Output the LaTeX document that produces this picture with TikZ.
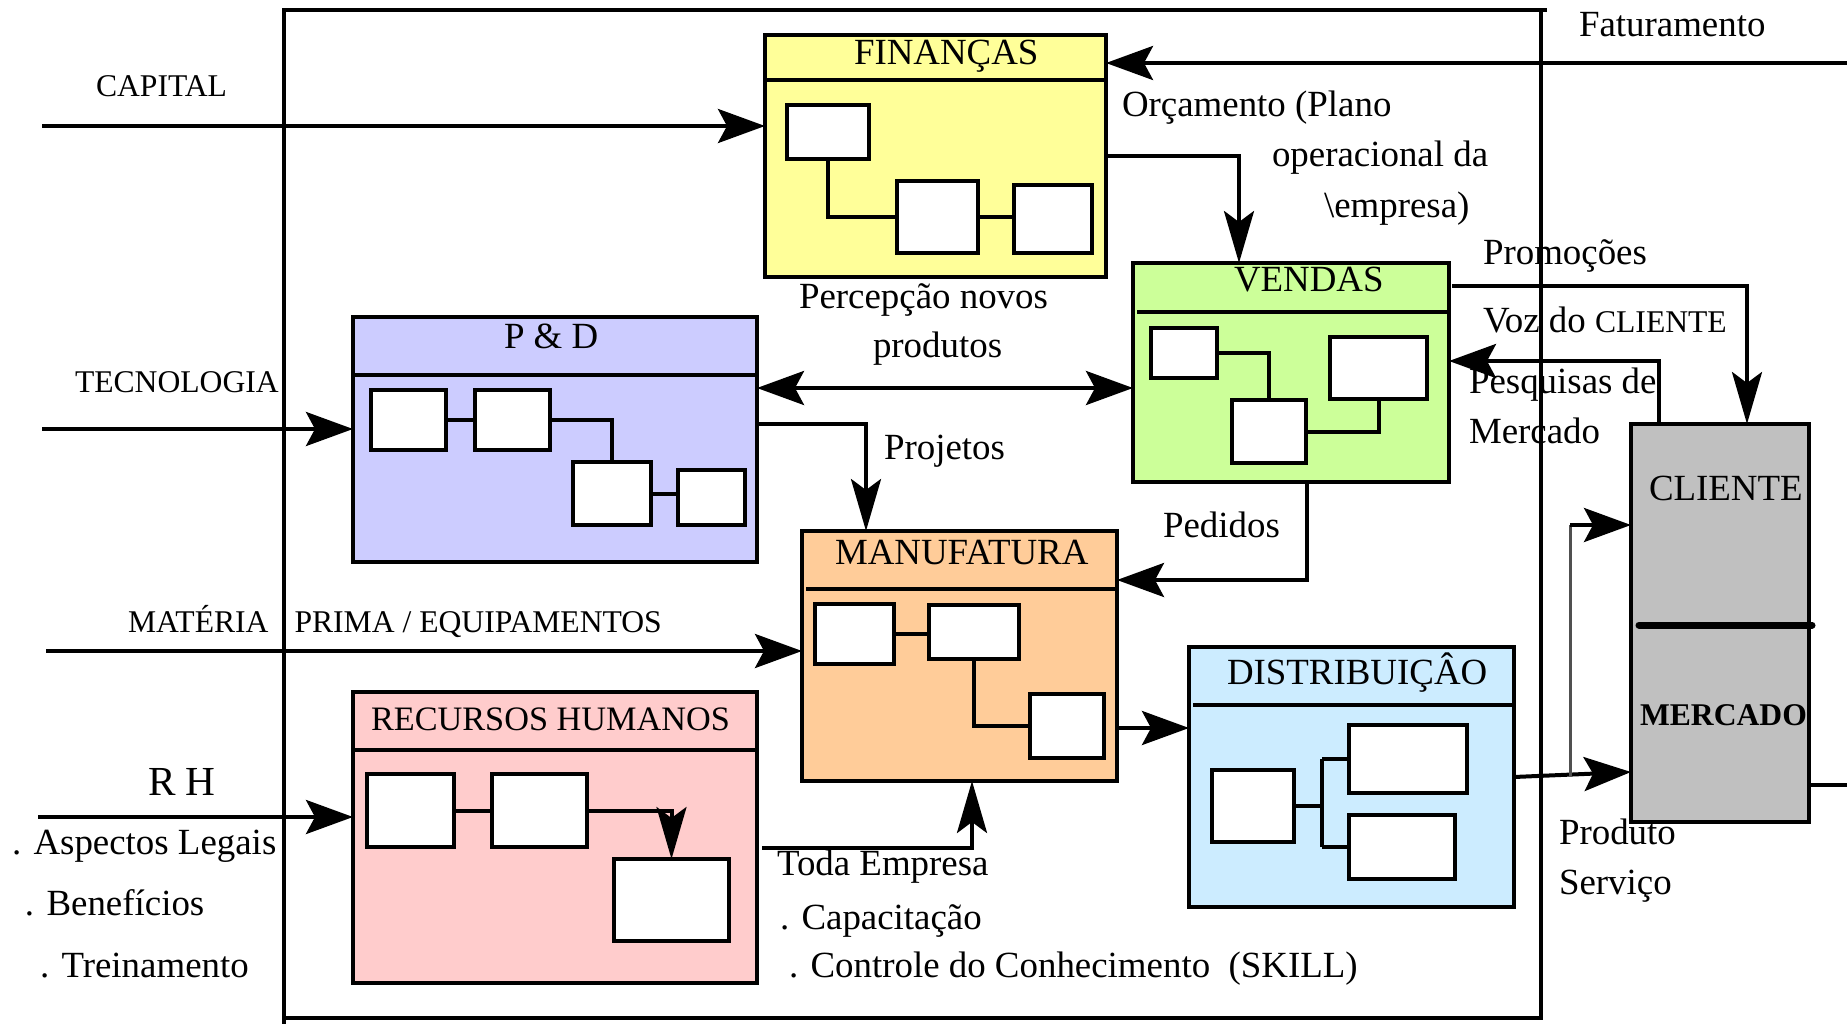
\documentclass[tikz,border=0pt]{standalone}
\usepackage{fontspec}
\setmainfont{Liberation Serif}
\usetikzlibrary{arrows.meta,calc}
\definecolor{finc}{HTML}{FFFF99}
\definecolor{pdc}{HTML}{CCCCFF}
\definecolor{venc}{HTML}{CCFF99}
\definecolor{manc}{HTML}{FFCC99}
\definecolor{rhc}{HTML}{FFCCCC}
\definecolor{distc}{HTML}{CCECFF}
\definecolor{clic}{HTML}{C0C0C0}
\definecolor{splitgray}{HTML}{505050}

\begin{document}
\begin{tikzpicture}[x=0.02cm,y=-0.02cm,line width=0.08cm,
  panel/.style={draw,inner sep=0pt,outer sep=0pt,anchor=north west},
  cell/.style={panel,fill=white},
  sz/.style 2 args={minimum width=#1*0.02cm,minimum height=#2*0.02cm},
  txt/.style={anchor=base west,inner sep=0pt,outer sep=0pt,font=\fontsize{21}{25}\selectfont},
  txts/.style={txt,font=\fontsize{18}{22}\selectfont},
  harr/.style={-{Stealth[length=0.94cm,width=0.68cm,inset=0.18cm]}},
  varr/.style={-{Stealth[length=1.04cm,width=0.6cm,inset=0.22cm]}},
  dharr/.style={{Stealth[length=0.94cm,width=0.68cm,inset=0.18cm]}-{Stealth[length=0.94cm,width=0.68cm,inset=0.18cm]}},
  splitline/.style={draw=splitgray,line width=0.06cm}]

\fill[white] (0,0) rectangle (1847,1024);
\useasboundingbox (0,0) rectangle (1847,1024);

% departments
\node[panel,fill=finc,sz={341}{242}] (fin) at (765,35) {};
\node[panel,fill=pdc,sz={404}{245}] (pd) at (353,317) {};
\node[panel,fill=venc,sz={316}{219}] (ven) at (1133,263) {};
\node[panel,fill=manc,sz={315}{250}] (man) at (802,531) {};
\node[panel,fill=rhc,sz={404}{291}] (rh) at (353,692) {};
\node[panel,fill=distc,sz={325}{260}] (dist) at (1189,647) {};
\node[panel,fill=clic,sz={178}{398}] (cli) at (1631,424) {};

% header rules
\draw ($(fin.north west)+(0,45)$) -- ($(fin.north east)+(0,45)$);
\draw ($(pd.north west)+(0,58)$) -- ($(pd.north east)+(0,58)$);
\draw ($(ven.north west)+(4,49)$) -- ($(ven.north east)+(0,49)$);
\draw ($(man.north west)+(4,58)$) -- ($(man.north east)+(0,58)$);
\draw ($(rh.north west)+(0,58)$) -- ($(rh.north east)+(0,58)$);
\draw ($(dist.north west)+(4,58)$) -- ($(dist.north east)+(0,58)$);
\draw[line width=0.14cm,line cap=round] ($(cli.north west)+(8,201)$) -- ($(cli.north east)+(3,201)$);

% inner organisation charts
\node[cell,sz={82}{54}] (fin1) at (787,105) {};
\node[cell,sz={81}{72}] (fin2) at (897,181) {};
\node[cell,sz={78}{68}] (fin3) at (1014,185) {};
\node[cell,sz={75}{60}] (pd1) at (371,390) {};
\node[cell,sz={75}{60}] (pd2) at (475,390) {};
\node[cell,sz={78}{63}] (pd3) at (573,462) {};
\node[cell,sz={67}{55}] (pd4) at (678,470) {};
\node[cell,sz={66}{50}] (ven1) at (1151,328) {};
\node[cell,sz={97}{62}] (ven2) at (1330,337) {};
\node[cell,sz={74}{63}] (ven3) at (1232,400) {};
\node[cell,sz={79}{60}] (man1) at (815,604) {};
\node[cell,sz={90}{54}] (man2) at (929,605) {};
\node[cell,sz={74}{64}] (man3) at (1030,694) {};
\node[cell,sz={87}{73}] (rh1) at (367,774) {};
\node[cell,sz={95}{73}] (rh2) at (492,774) {};
\node[cell,sz={115}{82}] (rh3) at (614,859) {};
\node[cell,sz={82}{72}] (dist1) at (1212,770) {};
\node[cell,sz={118}{68}] (dist2) at (1349,725) {};
\node[cell,sz={106}{64}] (dist3) at (1349,815) {};

\draw (fin1.south) |- (fin2.west);
\draw (fin2.east) -- (fin2.east -| fin3.west);
\draw (pd1.east) -- (pd2.west);
\draw (pd2.east) -| (pd3.north);
\draw (pd3.east) -- (pd3.east -| pd4.west);
\draw (ven1.east) -| (ven3.north);
\draw (ven3.east) -| (ven2.south);
\draw (man1.east) -- (man1.east -| man2.west);
\draw (man2.south) |- (man3.west);
\draw (rh1.east) -- (rh2.west);
\draw[varr] (rh2.east) -| (rh3.north);
\coordinate (dbus) at ($(dist1.east)+(28,0)$);
\draw (dist1.east) -- (dbus);
\draw (dbus |- dist2.west) -- (dist2.west);
\draw (dbus |- dist3.west) -- (dist3.west);
\draw (dbus |- dist2.west) -- (dbus |- dist3.west);

% titles
\node[txt] (fin-t) at (854,65) {FINANÇAS};
\node[txt] (pd-t) at (504,348) {P \& D};
\node[txt] (ven-t) at (1234,291) {VENDAS};
\node[txt] (man-t) at (835,564) {MANUFATURA};
\node[txt,font=\fontsize{19.5}{24}\selectfont] (rh-t) at (371,730) {RECURSOS HUMANOS};
\node[txt] (dist-t) at (1227,684) {DISTRIBUIÇÂO};
\node[txt] (cli-t) at (1649,500) {CLIENTE};
\node[txt,font=\fontsize{18}{22}\selectfont\bfseries] (cli-m) at (1640,725) {MERCADO};

% flow labels
\node[txts] (l-cap) at (96,97) {CAPITAL};
\node[txts] (l-tec) at (75,392) {TECNOLOGIA};
\node[txts] (l-mat) at (128,632) {MATÉRIA\hspace{0.52cm}PRIMA / EQUIPAMENTOS};
\node[txt,font=\fontsize{23.5}{28}\selectfont] (l-rh) at (148,795) {R H};
\node[txt] (l-leg) at (12,854) {. Aspectos Legais};
\node[txt] (l-ben) at (25,915) {. Benefícios};
\node[txt] (l-tre) at (40,977) {. Treinamento};
\node[txt] (l-perc1) at (799,308) {Percepção novos};
\node[txt] (l-perc2) at (873,357) {produtos};
\node[txt] (l-orc1) at (1122,117) {Orçamento (Plano};
\node[txt] (l-orc2) at (1272,167) {operacional da};
\node[txt] (l-orc3) at (1324,217) {\textbackslash empresa)};
\node[txt] (l-fat) at (1579,37) {Faturamento};
\node[txt] (l-prom) at (1483,264) {Promoções};
\node[txt] (l-voz) at (1483,332) {Voz do {\fontsize{18}{22}\selectfont CLIENTE}};
\node[txt] (l-pes1) at (1469,393) {Pesquisas de};
\node[txt] (l-pes2) at (1469,443) {Mercado};
\node[txt] (l-proj) at (884,459) {Projetos};
\node[txt] (l-ped) at (1163,537) {Pedidos};
\node[txt] (l-toda) at (777,875) {Toda Empresa};
\node[txt] (l-capac) at (780,929) {. Capacitação};
\node[txt] (l-ctrl) at (789,977) {. Controle do Conhecimento\ \ (SKILL)};
\node[txt] (l-prod) at (1559,844) {Produto};
\node[txt] (l-serv) at (1559,894) {Serviço};

% company boundary
\draw (284,1024) -- (284,10) -- (1547,10);
\draw (1541,10) -- (1541,1018) -- (284,1018);

% inputs and outputs
\coordinate (in-cap) at (42,126);
\coordinate (in-tec) at (42,429);
\coordinate (in-mat) at (46,651);
\coordinate (in-rh) at (38,817);
\coordinate (out-fat) at (1847,63);
\coordinate (out-mkt) at (1847,785);
\draw[harr] (in-cap) -- (in-cap -| fin.west);
\draw[harr] (in-tec) -- (in-tec -| pd.west);
\draw[harr] (in-mat) -- (in-mat -| man.west);
\draw[harr] (in-rh) -- (in-rh -| rh.west);
\draw[harr] (out-fat) -- (out-fat -| fin.east);
\draw (cli.east |- out-mkt) -- (out-mkt);

% internal flows
\draw[varr] ($(fin.north east)+(0,121)$) -| ($(ven.north west)+(106,0)$);
\coordinate (pv) at ($(pd.north east)+(0,71)$);
\draw[dharr] (pv) -- (pv -| ven.west);
\draw[varr] ($(pd.north east)+(0,107)$) -| ($(man.north west)+(64,0)$);
\draw[harr] ($(ven.south west)+(174,0)$) |- ($(man.north east)+(0,49)$);
\draw[varr] ($(rh.north east)+(5,156)$) -| ($(man.south west)+(170,0)$);
\coordinate (md) at ($(man.north east)+(0,197)$);
\draw[harr] (md) -- (md -| dist.west);

% market flows
\draw[varr] ($(ven.north east)+(3,23)$) -| ($(cli.north west)+(116,0)$);
\draw[harr] ($(cli.north west)+(28,0)$) |- ($(ven.north east)+(0,98)$);
\draw[harr] ($(dist.north east)+(0,130)$) -- ($(cli.north west)+(0,348)$);
\coordinate (psplit) at (1570,776);
\coordinate (cliin) at ($(cli.north west)+(0,101)$);
\draw[splitline] (psplit) -- (psplit |- cliin);
\draw[harr] (psplit |- cliin) -- (cliin);

\end{tikzpicture}
\end{document}
